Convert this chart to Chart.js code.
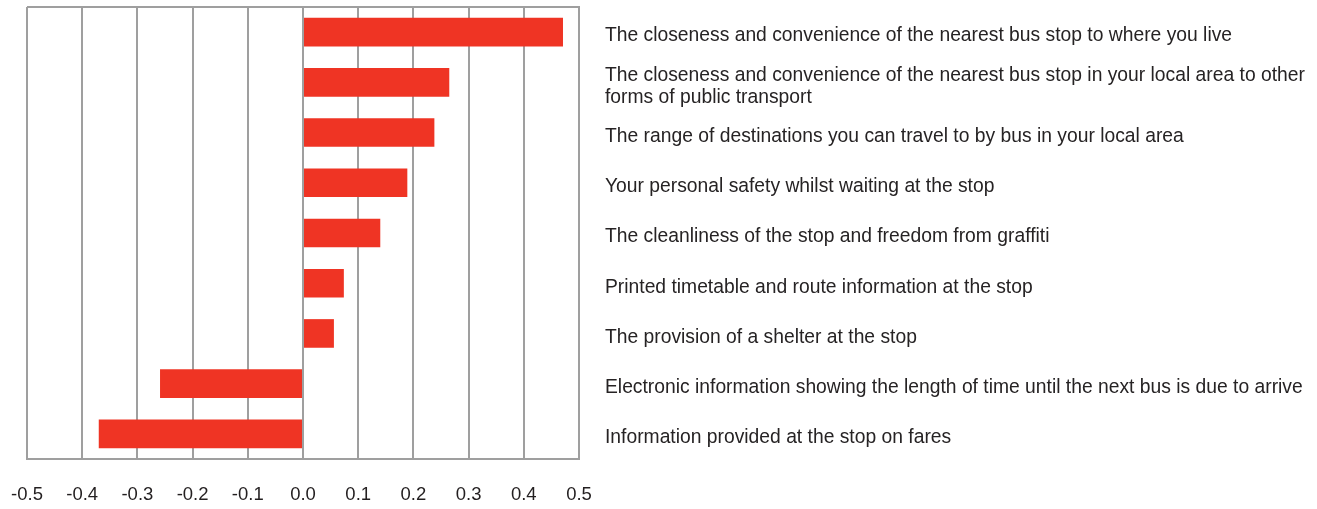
<!DOCTYPE html>
<html>
<head>
<meta charset="utf-8">
<script src="https://cdn.jsdelivr.net/npm/chart.js@4"></script>
<style>
  html, body { margin: 0; padding: 0; background: #ffffff; }
  #wrap { position: relative; width: 1317px; height: 509px; }
</style>
</head>
<body>
<div id="wrap"><canvas id="c" width="1317" height="509"></canvas></div>
<script>
const categories = [
  "The closeness and convenience of the nearest bus stop to where you live",
  ["The closeness and convenience of the nearest bus stop in your local area to other", "forms of public transport"],
  "The range of destinations you can travel to by bus in your local area",
  "Your personal safety whilst waiting at the stop",
  "The cleanliness of the stop and freedom from graffiti",
  "Printed timetable and route information at the stop",
  "The provision of a shelter at the stop",
  "Electronic information showing the length of time until the next bus is due to arrive",
  "Information provided at the stop on fares"
];
const values = [0.471, 0.265, 0.238, 0.189, 0.140, 0.074, 0.056, -0.259, -0.370];
const xTickValues = [-0.5, -0.4, -0.3, -0.2, -0.1, 0.0, 0.1, 0.2, 0.3, 0.4, 0.5];

const gridColor = '#9f9f9f';

function noAutoPadding(scale) {
  scale.paddingLeft = 0;
  scale.paddingRight = 0;
  scale.paddingTop = 0;
  scale.paddingBottom = 0;
}

new Chart(document.getElementById('c'), {
  type: 'bar',
  data: {
    labels: categories,
    datasets: [{
      data: values,
      backgroundColor: '#ef3424',
      borderWidth: 0,
      barPercentage: 0.57,
      categoryPercentage: 1.0
    }]
  },
  options: {
    indexAxis: 'y',
    responsive: false,
    animation: false,
    devicePixelRatio: 1,
    layout: { padding: { left: 27, top: 7, right: 0, bottom: 0 } },
    plugins: { legend: { display: false }, tooltip: { enabled: false } },
    scales: {
      x: {
        type: 'linear',
        min: -0.5,
        max: 0.5,
        afterBuildTicks: (scale) => { scale.ticks = xTickValues.map(v => ({ value: v })); },
        afterFit: (scale) => { scale.height = 50; noAutoPadding(scale); },
        grid: { color: gridColor, lineWidth: 2, drawTicks: false },
        border: { display: true, color: gridColor, width: 2 },
        ticks: {
          padding: 25,
          color: '#231f20',
          font: { family: '"Liberation Sans", Arial, sans-serif', size: 18.5 },
          callback: (v) => Number(v).toFixed(1)
        }
      },
      y: {
        position: 'right',
        afterFit: (scale) => { scale.width = 1317 - 579; noAutoPadding(scale); },
        grid: {
          drawTicks: false,
          lineWidth: 2,
          color: (ctx) => ctx.index === 0 ? gridColor : 'rgba(0,0,0,0)'
        },
        border: { display: true, color: gridColor, width: 2 },
        ticks: {
          padding: 26,
          labelOffset: 4,
          color: '#262324',
          crossAlign: 'near',
          font: { family: '"Liberation Sans", Arial, sans-serif', size: 19.3, lineHeight: 1.15 }
        }
      }
    }
  }
});
</script>
</body>
</html>
